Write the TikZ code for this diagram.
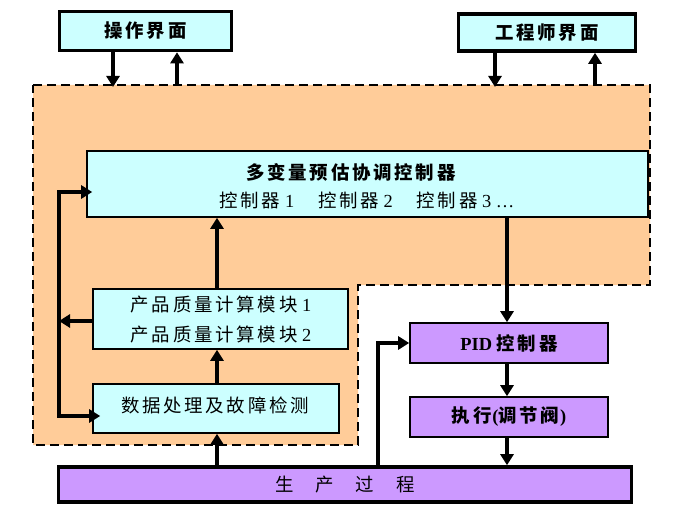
\documentclass[tikz,border=0pt]{standalone}
\usepackage{fontspec}
\setmainfont{Liberation Serif}
\newfontfamily\cjk{Noto Sans CJK SC}[LetterSpace=15]
\usetikzlibrary{arrows.meta}
\definecolor{cyanbox}{HTML}{CCFFFF}
\definecolor{purplebox}{HTML}{CC99FF}
\definecolor{orangebg}{HTML}{FFCC99}
\begin{document}
\begin{tikzpicture}[x=1bp,y=-1bp,
  font=\fontsize{18.5}{22}\selectfont,
  thinbox/.style={draw, line width=1.6bp, inner sep=0pt},
  thickbox/.style={draw, line width=3.6bp, inner sep=0pt},
  region/.style={draw, fill=orangebg, line width=2.6bp, dash pattern=on 9bp off 5bp},
  arr/.style={line width=4.3bp, -{Triangle[width=13bp,length=11bp]}},
  lbl/.style={inner sep=0pt}]
\useasboundingbox (0,0) rectangle (699,516);
% dashed region
\draw[region] (33,85) -- (650,85) -- (650,285) -- (358,285) -- (358,445) -- (33,445) -- cycle;
% top interface boxes
\node[thickbox, fill=cyanbox, minimum width=172bp, minimum height=39bp] (ops) at (145.5,31) {\cjk\bfseries 操作界面};
\node[thickbox, fill=cyanbox, minimum width=177bp, minimum height=37bp] (eng) at (547,32.5) {\cjk\bfseries 工程师界面};
% inner boxes
\node[thinbox, fill=cyanbox, minimum width=561bp, minimum height=66bp] (mv) at (367.5,184) {};
\node[lbl] (mvt1) at (351,172) {\cjk\bfseries 多变量预估协调控制器};
\node[lbl] (mvt2) at (367,200) {{\cjk 控制器} 1\hspace{24pt}{\cjk 控制器} 2\hspace{24pt}{\cjk 控制器} 3 …};
\node[thinbox, fill=cyanbox, minimum width=255bp, minimum height=60bp] (pq) at (220.5,319) {};
\node[lbl] (pqt1) at (221,305) {{\cjk 产品质量计算模块} 1};
\node[lbl] (pqt2) at (221,335) {{\cjk 产品质量计算模块} 2};
\node[thinbox, fill=cyanbox, minimum width=246bp, minimum height=49bp] (dp) at (216,408.5) {};
\node[lbl] (dpt) at (215,405) {\cjk 数据处理及故障检测};
\node[thinbox, fill=purplebox, minimum width=198bp, minimum height=40bp] (pid) at (509,343) {\textbf{PID} {\cjk\bfseries 控制器}};
\node[thinbox, fill=purplebox, minimum width=198bp, minimum height=40bp] (act) at (509,417) {{\cjk\bfseries 执行}\hspace{-2pt}\textbf{(}{\cjk\bfseries 调节阀}\hspace{-2pt}\textbf{)}};
\node[thickbox, fill=purplebox, minimum width=573bp, minimum height=35bp] (proc) at (345,484.5) {\cjk 生\hspace{22pt}产\hspace{22pt}过\hspace{22pt}程};
% connectors to interfaces
\coordinate (t1) at (113,87);
\coordinate (t2) at (177,85);
\coordinate (t3) at (495,87);
\coordinate (t4) at (595,85);
\draw[arr] (ops.south -| t1) -- (t1);
\draw[arr] (t2) -- (ops.south -| t2);
\draw[arr] (eng.south -| t3) -- (t3);
\draw[arr] (t4) -- (eng.south -| t4);
% feedback trunk
\coordinate (jn) at (59,321);
\coordinate (ytop) at (0,192);
\coordinate (ybot) at (0,416);
\draw[arr] (pq.west |- jn) -- (jn);
\draw[arr] (jn) |- ([xshift=6bp]mv.west |- ytop);
\draw[arr] (jn) |- ([xshift=8bp]dp.west |- ybot);
% vertical chain left
\coordinate (xa) at (217,0);
\draw[arr] (proc.north -| xa) -- (dp.south -| xa);
\draw[arr] (dp.north -| xa) -- (pq.south -| xa);
\draw[arr] (pq.north -| xa) -- (mv.south -| xa);
% vertical chain right
\coordinate (xb) at (507,0);
\draw[arr] (mv.south -| xb) -- (pid.north -| xb);
\draw[arr] (pid.south -| xb) -- (act.north -| xb);
\draw[arr] (act.south -| xb) -- (proc.north -| xb);
% process feedback to PID
\coordinate (xc) at (378,0);
\draw[arr] (proc.north -| xc) |- (pid.west);
\end{tikzpicture}
\end{document}
